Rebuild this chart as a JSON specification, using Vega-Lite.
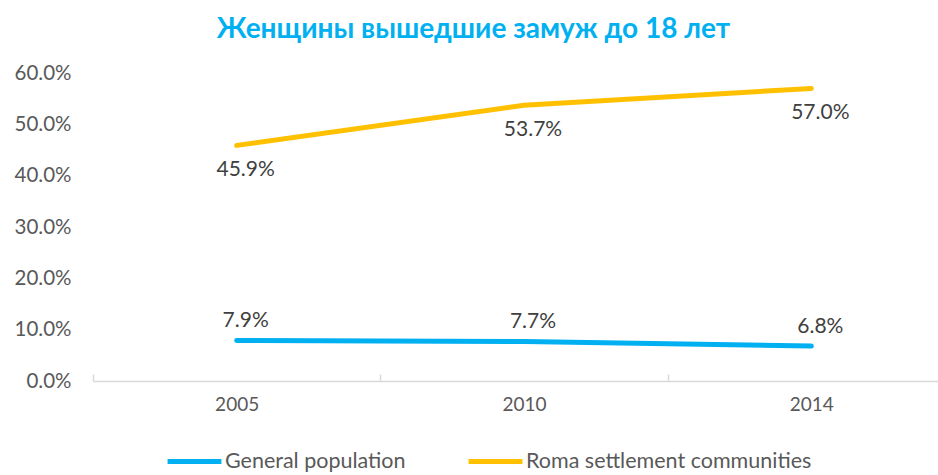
{
  "$schema": "https://vega.github.io/schema/vega-lite/v6.json",
  "autosize": {"type": "none"},
  "width": 845,
  "height": 308,
  "padding": {"left": 93, "top": 73, "right": 0, "bottom": 94},
  "background": "white",
  "config": {"view": {"stroke": null}, "font": "Lato"},
  "title": {
    "text": "Женщины вышедшие замуж до 18 лет",
    "font": "Lato",
    "fontSize": 28,
    "fontWeight": "bold",
    "color": "#00B0F0",
    "anchor": "middle",
    "frame": "group",
    "dx": -42,
    "offset": 19
  },
  "data": {
    "values": [
      {"year": "2005", "series": "General population", "value": 0.079},
      {"year": "2010", "series": "General population", "value": 0.077},
      {"year": "2014", "series": "General population", "value": 0.068},
      {"year": "2005", "series": "Roma settlement communities", "value": 0.459},
      {"year": "2010", "series": "Roma settlement communities", "value": 0.537},
      {"year": "2014", "series": "Roma settlement communities", "value": 0.570}
    ]
  },
  "encoding": {
    "x": {
      "field": "year",
      "type": "ordinal",
      "scale": {"type": "band", "range": [0, 862], "paddingInner": 0, "paddingOuter": 0},
      "axis": {
        "title": null,
        "labelAngle": 0,
        "labelFontSize": 19,
        "labelColor": "#595959",
        "labelFont": "Lato",
        "domainColor": "#D9D9D9",
        "domainWidth": 1.5,
        "tickColor": "#D9D9D9",
        "tickWidth": 1.5,
        "tickSize": -7,
        "tickBand": "extent",
        "labelPadding": 21,
        "grid": false
      }
    },
    "y": {
      "field": "value",
      "type": "quantitative",
      "scale": {"domain": [0, 0.6], "nice": false},
      "axis": {
        "title": null,
        "format": ".1%",
        "values": [0, 0.1, 0.2, 0.3, 0.4, 0.5, 0.6],
        "labelFontSize": 20.5,
        "labelColor": "#595959",
        "labelFont": "Lato",
        "domain": false,
        "ticks": false,
        "grid": false,
        "labelPadding": 22
      }
    }
  },
  "layer": [
    {
      "mark": {"type": "line", "strokeWidth": 5, "strokeCap": "round", "strokeJoin": "round"},
      "encoding": {
        "color": {
          "field": "series",
          "type": "nominal",
          "scale": {"domain": ["General population", "Roma settlement communities"], "range": ["#00B0F0", "#FFC000"]},
          "legend": {
            "title": null,
            "orient": "none",
            "direction": "horizontal",
            "legendX": 72,
            "legendY": 359,
            "symbolType": "stroke",
            "symbolSize": 2900,
            "symbolStrokeWidth": 5,
            "labelFontSize": 21.5,
            "labelColor": "#595959",
            "labelFont": "Lato",
            "labelOffset": 1,
            "labelLimit": 400,
            "columnPadding": 52
          }
        }
      }
    },
    {
      "transform": [{"filter": "datum.series == 'General population'"}],
      "mark": {"type": "text", "dy": -19, "dx": 9, "fontSize": 21, "color": "#404040", "font": "Lato"},
      "encoding": {"text": {"field": "value", "type": "quantitative", "format": ".1%"}}
    },
    {
      "transform": [{"filter": "datum.series == 'Roma settlement communities'"}],
      "mark": {"type": "text", "dy": 25, "dx": 9, "fontSize": 21, "color": "#404040", "font": "Lato"},
      "encoding": {"text": {"field": "value", "type": "quantitative", "format": ".1%"}}
    }
  ]
}
